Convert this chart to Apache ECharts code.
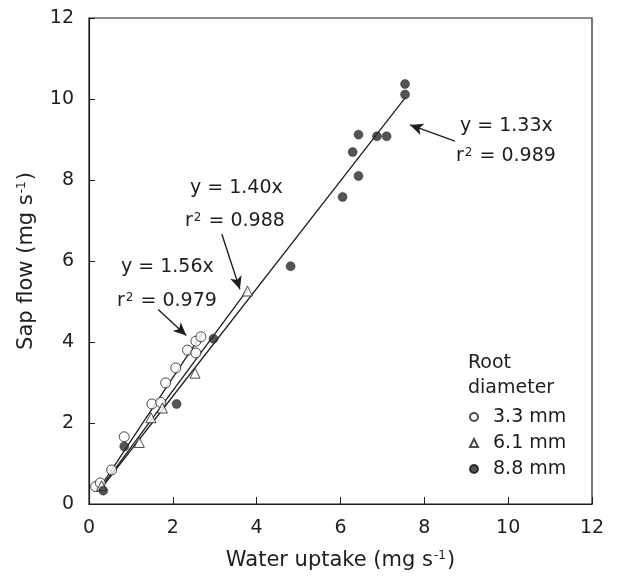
<!DOCTYPE html>
<html>
<head>
<meta charset="utf-8">
<script src="https://cdn.jsdelivr.net/npm/echarts@6/dist/echarts.min.js"></script>
<style>
  html, body { margin: 0; padding: 0; background: #fff; }
  #chart { width: 621px; height: 577px; }
</style>
</head>
<body>
<div id="chart"></div>
<script>
// 3.3 mm roots (open circles)
var root33 = [[0.16, 0.43], [0.27, 0.52], [0.54, 0.84], [0.84, 1.66], [1.50, 2.47], [1.71, 2.51],
  [1.83, 2.99], [2.07, 3.36], [2.35, 3.80], [2.55, 3.73], [2.55, 4.02], [2.67, 4.13]];
// 6.1 mm roots (open triangles)
var root61 = [[0.30, 0.45], [1.20, 1.52], [1.48, 2.13], [1.75, 2.37], [2.53, 3.23], [3.78, 5.26]];
// 8.8 mm roots (filled circles)
var root88 = [[0.34, 0.33], [0.84, 1.42], [2.09, 2.47], [2.97, 4.08], [4.81, 5.87], [6.05, 7.58],
  [6.29, 8.69], [6.43, 8.10], [6.43, 9.12], [6.87, 9.08], [7.10, 9.08], [7.54, 10.11], [7.54, 10.37]];

// regressions through the origin
var slopes = [1.56, 1.40, 1.33];
var fitRange = [[0.2, 2.7], [0.25, 3.8], [0.25, 7.55]];

// arrows pointing at the fit lines: [from, to] in data units
var arrows = [
  [[1.65, 4.80], [2.32, 4.16]],
  [[3.17, 6.66], [3.60, 5.30]],
  [[8.73, 8.96], [7.66, 9.36]]
];

function fitLine(i) {
  return fitRange[i].map(function (x) { return [x, +(slopes[i] * x).toFixed(3)]; });
}

var ink = '#1e1e1e';
var font = '"DejaVu Sans", sans-serif';
var supStyle = { fontSize: 12, verticalAlign: 'top', color: ink, fontFamily: font, padding: [0, 1, 0, 1] };

var chartDom = document.getElementById('chart');
var myChart = echarts.init(chartDom);

var option = {
  animation: false,
  grid: {
    left: 89, right: 29, top: 18, bottom: 73,
    show: true, borderColor: ink, borderWidth: 1.2
  },
  xAxis: {
    type: 'value', min: 0, max: 12, interval: 2,
    name: 'Water uptake (mg s{sup|-1})',
    nameLocation: 'middle', nameGap: 46,
    nameTextStyle: { color: ink, fontSize: 21, fontFamily: font, rich: { sup: supStyle } },
    axisLine: { show: true, lineStyle: { color: ink, width: 1.2 } },
    axisTick: { show: true, inside: true, length: 7, lineStyle: { color: ink } },
    axisLabel: { color: ink, fontSize: 19, fontFamily: font, margin: 15 },
    splitLine: { show: false }
  },
  yAxis: {
    type: 'value', min: 0, max: 12, interval: 2,
    name: 'Sap flow (mg s{sup|-1})',
    nameLocation: 'middle', nameGap: 52,
    nameTextStyle: { color: ink, fontSize: 21, fontFamily: font, rich: { sup: supStyle } },
    axisLine: { show: true, lineStyle: { color: ink, width: 1.2 } },
    axisTick: { show: true, inside: true, length: 6, lineStyle: { color: ink } },
    axisLabel: { color: ink, fontSize: 19, fontFamily: font, margin: 15, padding: [8, 0, 0, 0] },
    splitLine: { show: false }
  },
  legend: {
    orient: 'vertical',
    left: 464, top: 402,
    itemWidth: 8, itemHeight: 8, itemGap: 6,
    textStyle: { color: ink, fontSize: 19, lineHeight: 20, fontFamily: font, padding: [0, 0, 0, 10] },
    data: ['3.3 mm', '6.1 mm', '8.8 mm']
  },
  graphic: [
    { type: 'text', left: 468, top: 351, style: { text: 'Root\ndiameter', fill: ink, font: '19px ' + font, lineHeight: 25 } },
    { type: 'text', left: 121, top: 258, style: { text: 'y = 1.56x', fill: ink, font: '19px ' + font } },
    { type: 'text', left: 117, top: 292, style: { text: 'r{sup|2} = 0.979', fill: ink, font: '19px ' + font, rich: { sup: supStyle } } },
    { type: 'text', left: 190, top: 179, style: { text: 'y = 1.40x', fill: ink, font: '19px ' + font } },
    { type: 'text', left: 185, top: 212, style: { text: 'r{sup|2} = 0.988', fill: ink, font: '19px ' + font, rich: { sup: supStyle } } },
    { type: 'text', left: 460, top: 117, style: { text: 'y = 1.33x', fill: ink, font: '19px ' + font } },
    { type: 'text', left: 456, top: 147, style: { text: 'r{sup|2} = 0.989', fill: ink, font: '19px ' + font, rich: { sup: supStyle } } }
  ],
  series: [
    {
      name: '3.3 mm', type: 'scatter', symbol: 'circle', symbolSize: 10, z: 3,
      itemStyle: { color: '#fff', borderColor: ink, borderWidth: 1 },
      data: root33
    },
    {
      name: '6.1 mm', type: 'scatter', symbol: 'triangle', symbolSize: 10, z: 3,
      itemStyle: { color: '#fff', borderColor: ink, borderWidth: 1 },
      data: root61
    },
    {
      name: '8.8 mm', type: 'scatter', symbol: 'circle', symbolSize: 9, z: 4,
      itemStyle: { color: '#2a2a2a', borderColor: '#111', borderWidth: 0.5 },
      data: root88
    },
    {
      name: 'fit 3.3', type: 'line', showSymbol: false, silent: true, z: 2,
      lineStyle: { color: ink, width: 1.3 }, data: fitLine(0)
    },
    {
      name: 'fit 6.1', type: 'line', showSymbol: false, silent: true, z: 2,
      lineStyle: { color: ink, width: 1.3 }, data: fitLine(1)
    },
    {
      name: 'fit 8.8', type: 'line', showSymbol: false, silent: true, z: 2,
      lineStyle: { color: ink, width: 1.3 }, data: fitLine(2),
      markLine: {
        silent: true,
        symbol: ['none', 'arrow'],
        symbolSize: [9, 13],
        label: { show: false },
        lineStyle: { color: ink, width: 1.4, type: 'solid' },
        data: arrows.map(function (a) {
          return [{ coord: a[0] }, { coord: a[1] }];
        })
      }
    }
  ]
};
myChart.setOption(option);
</script>
</body>
</html>
